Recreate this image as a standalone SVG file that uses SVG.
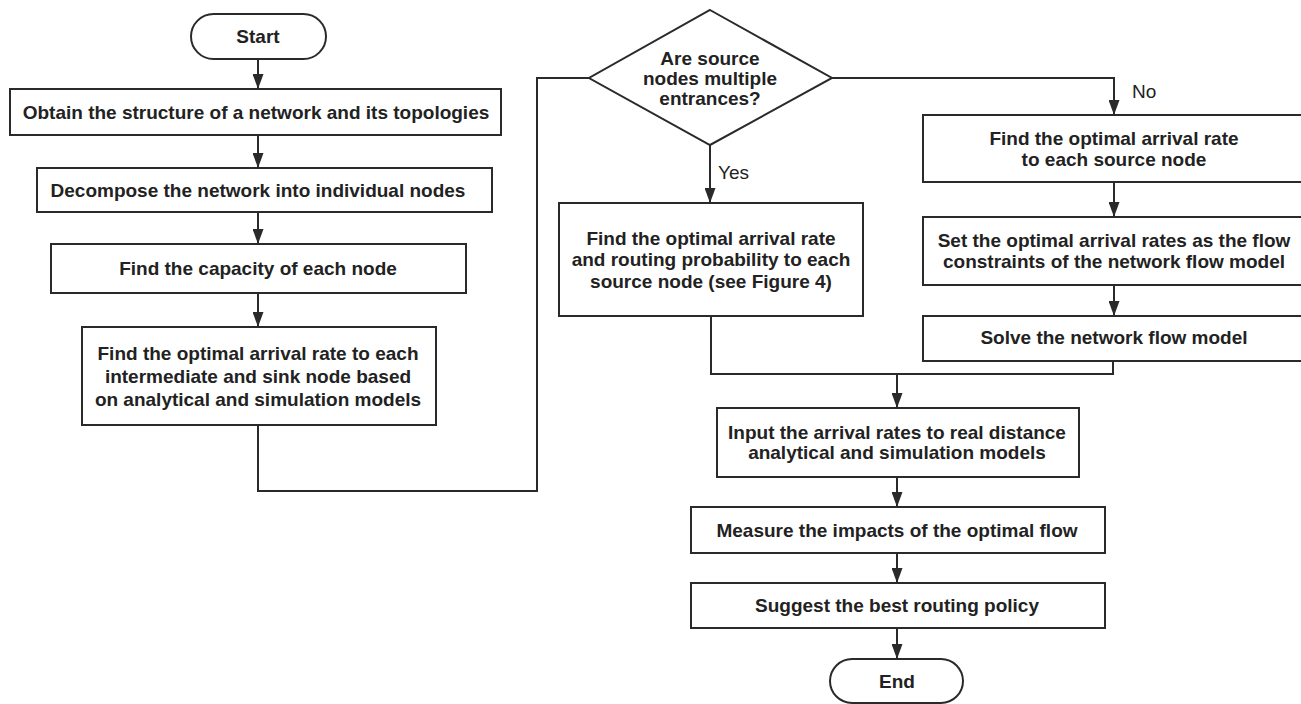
<svg xmlns="http://www.w3.org/2000/svg" width="1301" height="704" viewBox="0 0 1301 704">
<style>
.box{fill:#fff;stroke:#2a2a2a;stroke-width:2}
.t{font-family:"Liberation Sans",Arial,sans-serif;font-weight:bold;font-size:19px;fill:#222;text-anchor:middle;dominant-baseline:central}
.lbl{font-family:"Liberation Sans",Arial,sans-serif;font-size:19px;fill:#222;dominant-baseline:central}
.c{fill:none;stroke:#2a2a2a;stroke-width:2}
</style>
<defs>
<marker id="ahd" viewBox="0 0 11 15" refX="5.5" refY="15" markerWidth="11" markerHeight="15" markerUnits="userSpaceOnUse" orient="0">
<path d="M0,0 L11,0 L5.5,15 z" fill="#2a2a2a"/>
</marker>
</defs>
<rect width="1301" height="704" fill="#fff"/>
<g id="connectors">
<line class="c" x1="258" y1="59" x2="258" y2="89" marker-end="url(#ahd)"/>
<line class="c" x1="258" y1="135" x2="258" y2="168" marker-end="url(#ahd)"/>
<line class="c" x1="258" y1="212" x2="258" y2="244" marker-end="url(#ahd)"/>
<line class="c" x1="258" y1="293" x2="258" y2="327" marker-end="url(#ahd)"/>
<polyline class="c" points="258,425 258,491 537,491 537,78 589,78"/>
<line class="c" x1="710" y1="145" x2="710" y2="203" marker-end="url(#ahd)"/>
<polyline class="c" points="832,78 1114,78 1114,115" marker-end="url(#ahd)"/>
<line class="c" x1="1114" y1="182" x2="1114" y2="217" marker-end="url(#ahd)"/>
<line class="c" x1="1114" y1="285" x2="1114" y2="316" marker-end="url(#ahd)"/>
<polyline class="c" points="711,316 711,374 1113,374 1113,361"/>
<line class="c" x1="897" y1="374" x2="897" y2="408" marker-end="url(#ahd)"/>
<line class="c" x1="897" y1="477" x2="897" y2="507" marker-end="url(#ahd)"/>
<line class="c" x1="897" y1="553" x2="897" y2="583" marker-end="url(#ahd)"/>
<line class="c" x1="897" y1="628" x2="897" y2="659" marker-end="url(#ahd)"/>
<text class="lbl" x="718" y="172">Yes</text>
<text class="lbl" x="1132" y="91">No</text>
</g>
<g id="start">
<rect class="box" x="191" y="14" width="135" height="45" rx="22.5"/>
<text class="t" x="258" y="36">Start</text>
</g>
<g id="obtain">
<rect class="box" x="10" y="89" width="491" height="46"/>
<text class="t" x="256" y="112">Obtain the structure of a network and its topologies</text>
</g>
<g id="decompose">
<rect class="box" x="37" y="168" width="455" height="44"/>
<text class="t" x="258" y="190">Decompose the network into individual nodes</text>
</g>
<g id="capacity">
<rect class="box" x="51" y="244" width="415" height="49"/>
<text class="t" x="258" y="268">Find the capacity of each node</text>
</g>
<g id="intermediate">
<rect class="box" x="82" y="327" width="354" height="98"/>
<text class="t" x="258" y="353">Find the optimal arrival rate to each</text>
<text class="t" x="258" y="376">intermediate and sink node based</text>
<text class="t" x="258" y="399">on analytical and simulation models</text>
</g>
<g id="decision">
<polygon class="box" points="710,10 832,78 710,145 589,78"/>
<text class="t" x="710" y="58">Are source</text>
<text class="t" x="710" y="78">nodes multiple</text>
<text class="t" x="710" y="98">entrances?</text>
</g>
<g id="routing">
<rect class="box" x="559" y="203" width="304" height="113"/>
<text class="t" x="711" y="238">Find the optimal arrival rate</text>
<text class="t" x="711" y="259">and routing probability to each</text>
<text class="t" x="711" y="281">source node (see Figure 4)</text>
</g>
<g id="source-rate">
<rect class="box" x="923" y="115" width="385" height="67"/>
<text class="t" x="1114" y="138">Find the optimal arrival rate</text>
<text class="t" x="1114" y="159">to each source node</text>
</g>
<g id="constraints">
<rect class="box" x="923" y="217" width="385" height="68"/>
<text class="t" x="1114" y="240">Set the optimal arrival rates as the flow</text>
<text class="t" x="1114" y="261">constraints of the network flow model</text>
</g>
<g id="solve">
<rect class="box" x="923" y="316" width="385" height="45"/>
<text class="t" x="1114" y="337">Solve the network flow model</text>
</g>
<g id="input">
<rect class="box" x="717" y="408" width="362" height="69"/>
<text class="t" x="897" y="432">Input the arrival rates to real distance</text>
<text class="t" x="897" y="452">analytical and simulation models</text>
</g>
<g id="measure">
<rect class="box" x="691" y="507" width="414" height="46"/>
<text class="t" x="897" y="530">Measure the impacts of the optimal flow</text>
</g>
<g id="suggest">
<rect class="box" x="691" y="583" width="414" height="45"/>
<text class="t" x="897" y="605">Suggest the best routing policy</text>
</g>
<g id="end">
<rect class="box" x="830" y="659" width="133" height="44" rx="22"/>
<text class="t" x="897" y="681">End</text>
</g>
</svg>
